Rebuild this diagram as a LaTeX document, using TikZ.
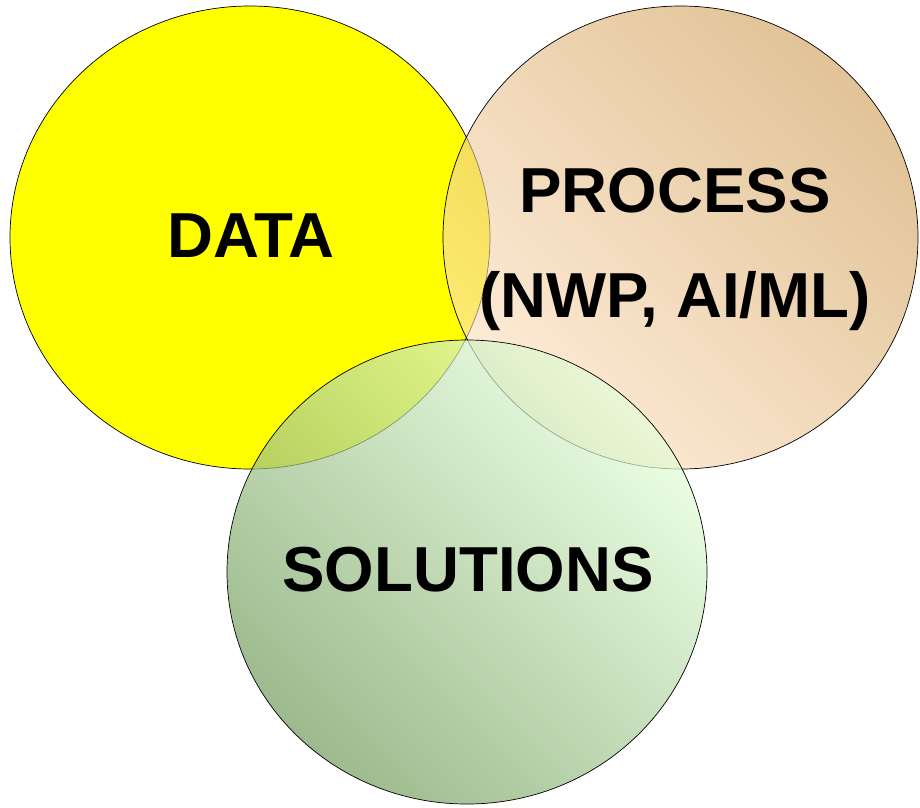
\documentclass[tikz,border=0pt]{standalone}
\usepackage{fontspec}
\setmainfont{Liberation Sans}
\usetikzlibrary{shapes.geometric}
\definecolor{datayellow}{HTML}{FFFF00}
\definecolor{proclight}{RGB}{254,223,189}
\definecolor{procdark}{RGB}{205,155,81}
\definecolor{sollight}{RGB}{228,255,217}
\definecolor{soldark}{RGB}{115,157,93}
\begin{document}
\begin{tikzpicture}[x=1pt, y=-1pt,
		venn/.style={draw=black, line width=0.7pt, ellipse, inner sep=0pt,
					minimum width=480pt, minimum height=463pt},
		lbl/.style={font=\bfseries\fontsize{63.6}{105}\selectfont, align=center, inner sep=0pt}]
		\useasboundingbox (0,0) rectangle (920,807);

		\node[venn, fill=datayellow] (data) at (250,237.5) {};
		\node[venn, minimum width=475pt, top color=proclight, bottom color=procdark,
			shading angle=135, fill opacity=0.6] (process) at (680.5,237.5) {};
		\node[venn, minimum height=464pt, top color=sollight, bottom color=soldark,
			shading angle=-45, fill opacity=0.7] (solutions) at (467,572) {};

		\node[lbl] (datatxt) at (251,236) {DATA};
		\node[lbl] (proctxt) at (675,249) {PROCESS\\(NWP, AI/ML)};
		\node[lbl] (soltxt) at (468,570) {SOLUTIONS};
	\end{tikzpicture}
\end{document}
